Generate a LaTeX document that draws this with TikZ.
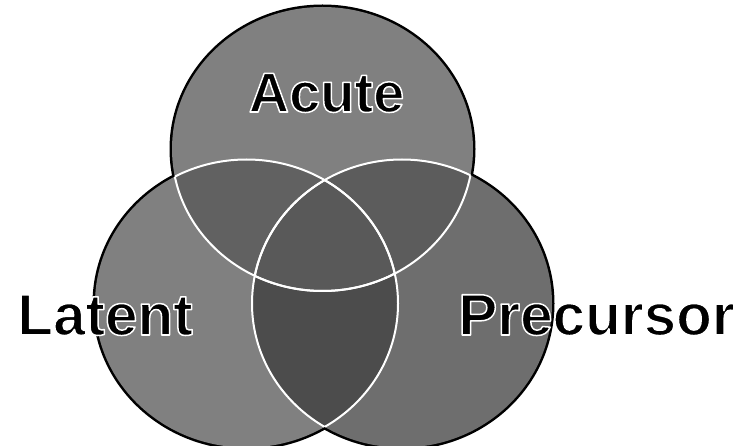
\documentclass[tikz,border=0pt]{standalone}
\usepackage{fontspec}
\setmainfont{Liberation Sans}
% one text, drawn with a white stroke round its glyphs (text render mode 2)
\newcommand{\halotext}[1]{%
  \special{pdf:literal direct 2 Tr 1 1 1 RG 1.5 w 1 j}#1\special{pdf:literal direct 0 Tr}}
\tikzset{
  outline/.style={draw=black,line width=5pt},
  inner/.style={draw=white,line width=2pt},
  cTop/.style={fill=black!50},
  cLft/.style={fill=black!50},
  cRgt/.style={fill=black!57},
  cTL/.style={fill=black!62},
  cTR/.style={fill=black!64},
  cLR/.style={fill=black!70},
  cC/.style={fill=black!65},
  lbl/.style={font=\bfseries\fontsize{58.5}{60}\selectfont,text=black,inner sep=0pt,anchor=base},
}
\begin{document}
\begin{tikzpicture}[x=1pt,y=1pt]
\fill[white] (0,0) rectangle (742,445);
\useasboundingbox (0,0) rectangle (742,445);
% black outer outlines
\draw[outline] (322.5,296) ellipse [x radius=150.5, y radius=142];
\draw[outline] (246.5,141.5) ellipse [x radius=151.5, y radius=144];
\draw[outline] (402,141.5) ellipse [x radius=150, y radius=144];
% base fills
\fill[cTop] (322.5,296) ellipse [x radius=150.5, y radius=142];
\fill[cLft] (246.5,141.5) ellipse [x radius=151.5, y radius=144];
\fill[cRgt] (402,141.5) ellipse [x radius=150, y radius=144];
% pairwise overlaps
\begin{scope}
  \clip (322.5,296) ellipse [x radius=150.5, y radius=142];
  \fill[cTL] (246.5,141.5) ellipse [x radius=151.5, y radius=144];
  \fill[cTR] (402,141.5) ellipse [x radius=150, y radius=144];
\end{scope}
\begin{scope}
  \clip (246.5,141.5) ellipse [x radius=151.5, y radius=144];
  \fill[cLR] (402,141.5) ellipse [x radius=150, y radius=144];
\end{scope}
% centre
\begin{scope}
  \clip (322.5,296) ellipse [x radius=150.5, y radius=142];
  \clip (246.5,141.5) ellipse [x radius=151.5, y radius=144];
  \fill[cC] (402,141.5) ellipse [x radius=150, y radius=144];
\end{scope}
% white inner boundaries
\begin{scope}
  \clip (246.5,141.5) ellipse [x radius=151.5, y radius=144];
  \draw[inner] (322.5,296) ellipse [x radius=150.5, y radius=142];
  \draw[inner] (402,141.5) ellipse [x radius=150, y radius=144];
\end{scope}
\begin{scope}
  \clip (402,141.5) ellipse [x radius=150, y radius=144];
  \draw[inner] (322.5,296) ellipse [x radius=150.5, y radius=142];
  \draw[inner] (246.5,141.5) ellipse [x radius=151.5, y radius=144];
\end{scope}
\begin{scope}
  \clip (322.5,296) ellipse [x radius=150.5, y radius=142];
  \draw[inner] (246.5,141.5) ellipse [x radius=151.5, y radius=144];
  \draw[inner] (402,141.5) ellipse [x radius=150, y radius=144];
\end{scope}
% labels
\node[lbl,font=\bfseries\fontsize{56}{60}\selectfont] (acute) at (326.5,333) {\halotext{Acute}};
\node[lbl] (latent) at (105,110) {\halotext{Latent}};
\node[lbl] (precursor) at (596.5,110) {\halotext{Precursor}};
\end{tikzpicture}
\end{document}
